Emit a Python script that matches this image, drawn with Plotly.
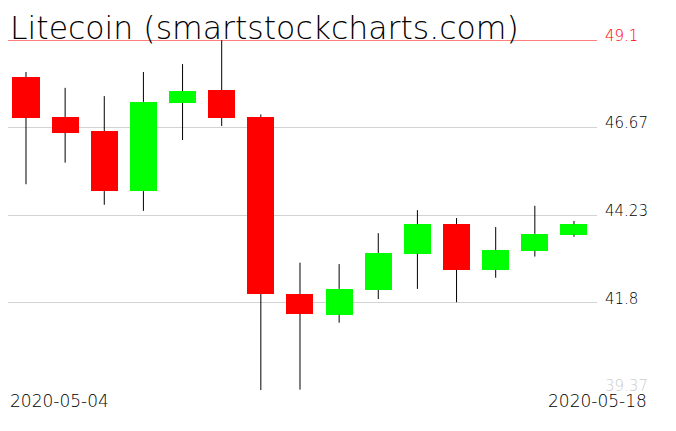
import plotly.graph_objects as go

dates = ["2020-05-04", "2020-05-05", "2020-05-06", "2020-05-07", "2020-05-08",
         "2020-05-09", "2020-05-10", "2020-05-11", "2020-05-12", "2020-05-13",
         "2020-05-14", "2020-05-15", "2020-05-16", "2020-05-17", "2020-05-18"]
opens = [48.07, 46.96, 46.57, 44.90, 47.35, 47.71, 46.96, 42.04, 41.46, 42.15,
         43.16, 43.98, 42.71, 43.24, 43.69]
highs = [48.21, 47.77, 47.54, 48.21, 48.43, 49.10, 47.03, 42.91, 42.87, 43.73,
         44.37, 44.15, 43.90, 44.49, 44.07]
lows = [45.09, 45.69, 44.52, 44.35, 46.32, 46.71, 39.37, 39.38, 41.24, 41.90,
        42.18, 41.81, 42.49, 43.08, 43.63]
closes = [46.94, 46.52, 44.90, 47.38, 47.68, 46.94, 42.04, 41.49, 42.18, 43.18,
          43.98, 42.71, 43.26, 43.71, 43.98]
tick_vals = [39.37, 41.8, 44.23, 46.67, 49.1]
tick_text = ["39.37", "41.8", "44.23", "46.67", "49.1"]
tick_colors = ["#cccccc", "black", "black", "black", "red"]

FONT = "DejaVu Sans"
DAY = 86400000

fig = go.Figure()

# wicks: upper and lower parts so the bodies stay solid
wx, wy = [], []
for d, o, h, l, c in zip(dates, opens, highs, lows, closes):
    wx += [d, d, None, d, d, None]
    wy += [h, max(o, c), None, min(o, c), l, None]
fig.add_trace(go.Scatter(x=wx, y=wy, mode="lines",
                         line=dict(color="black", width=1), hoverinfo="skip"))

# bodies
fig.add_trace(go.Bar(
    x=dates,
    base=[min(o, c) for o, c in zip(opens, closes)],
    y=[abs(c - o) for o, c in zip(opens, closes)],
    width=0.69 * DAY,
    marker=dict(color=["#00ff00" if c >= o else "#ff0000" for o, c in zip(opens, closes)],
                line=dict(width=0)),
))

fig.add_shape(type="line", xref="paper", x0=0, x1=1, yref="y",
              y0=max(highs), y1=max(highs), line=dict(color="red", width=1))

for v, t, col in zip(tick_vals, tick_text, tick_colors):
    fig.add_annotation(x=1, xref="paper", y=v, yref="y", text=t, showarrow=False,
                       xanchor="left", yanchor="bottom", xshift=6, yshift=-7,
                       font=dict(family=FONT, size=15, color=col, weight=200))

fig.add_annotation(x=0, xref="paper", y=0, yref="paper", text=dates[0], showarrow=False,
                   xanchor="left", yanchor="top", xshift=0, yshift=1,
                   font=dict(family=FONT, size=17, color="black", weight=200))
fig.add_annotation(x=1, xref="paper", y=0, yref="paper", text=dates[-1], showarrow=False,
                   xanchor="right", yanchor="top", xshift=52, yshift=1,
                   font=dict(family=FONT, size=17, color="black", weight=200))
fig.add_annotation(x=0, xref="paper", y=1, yref="paper",
                   text="Litecoin (smartstockcharts.com)", showarrow=False,
                   xanchor="left", yanchor="bottom", xshift=0, yshift=-8,
                   font=dict(family=FONT, size=31.5, color="black", weight=200))

fig.update_layout(
    width=676, height=431,
    margin=dict(l=0, r=87, t=32, b=49),
    paper_bgcolor="white", plot_bgcolor="white",
    showlegend=False, bargap=0,
    xaxis=dict(type="date", range=["2020-05-03 12:58", "2020-05-18 14:07"],
               showgrid=False, showticklabels=False, zeroline=False, showline=False),
    yaxis=dict(range=[tick_vals[0], tick_vals[-1]], tickvals=tick_vals,
               showticklabels=False, gridcolor="#d3d3d3", gridwidth=1,
               zeroline=False, showline=False),
)

fig.write_html("out.html")
